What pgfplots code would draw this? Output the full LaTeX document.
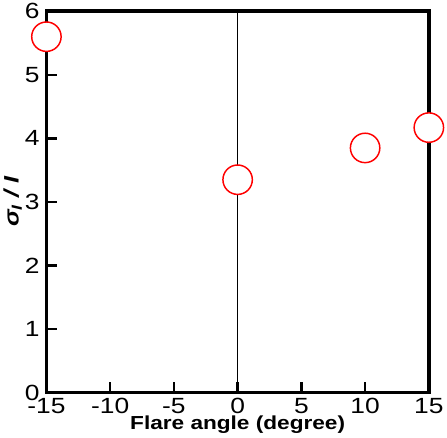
\documentclass[border=0pt]{standalone}
\usepackage{pgfplots}
\pgfplotsset{compat=1.18}
\usepackage{fontspec}
\setmainfont{Liberation Sans}
\newfontfamily\widefont[FakeStretch=1.2]{Liberation Sans}
\begin{document}
\begin{tikzpicture}
\begin{axis}[
  scale only axis,
  width=364bp, height=363bp,
  xmin=-15, xmax=15, ymin=0, ymax=6,
  xtick={-15,-10,...,15}, ytick={0,1,...,6},
  major tick length=0.3cm,
  tick align=inside,
  xtick pos=left, ytick pos=left,
  axis line style={line width=3.5bp},
  clip=false,
  xticklabel style={font=\widefont\fontsize{21}{24}\selectfont, yshift=-2bp},
  yticklabel style={font=\widefont\fontsize{21}{24}\selectfont, xshift=-3bp},
  xlabel={\widefont\fontsize{18}{22}\selectfont\bfseries Flare angle (degree)},
  ylabel={\widefont\fontsize{20}{23}\selectfont\bfseries\itshape σ\textsubscript{I} / I},
  xlabel style={yshift=5bp},
  ylabel style={yshift=-4bp},
  /pgf/number format/assume math mode=true,
]
% inward tick marks as short segments
\addplot[black, line width=2.5bp, forget plot] coordinates {(-10,0) (-10,0.16)};
\addplot[black, line width=2.5bp, forget plot] coordinates {(-5,0) (-5,0.16)};
\addplot[black, line width=2.5bp, forget plot] coordinates {(0,0) (0,0.16)};
\addplot[black, line width=2.5bp, forget plot] coordinates {(5,0) (5,0.16)};
\addplot[black, line width=2.5bp, forget plot] coordinates {(10,0) (10,0.16)};
\addplot[black, line width=2.5bp, forget plot] coordinates {(-15,1) (-14.2,1)};
\addplot[black, line width=2.5bp, forget plot] coordinates {(-15,2) (-14.2,2)};
\addplot[black, line width=2.5bp, forget plot] coordinates {(-15,3) (-14.2,3)};
\addplot[black, line width=2.5bp, forget plot] coordinates {(-15,4) (-14.2,4)};
\addplot[black, line width=2.5bp, forget plot] coordinates {(-15,5) (-14.2,5)};
\addplot[black, line width=1.1bp] coordinates {(0,0) (0,6)};
\addplot[only marks, mark=*, mark size=14bp,
  mark options={draw=red, fill=white, line width=1.4bp}]
  coordinates {(-15,5.6) (0,3.35) (10,3.85) (15,4.17)};
\end{axis}
\end{tikzpicture}
\end{document}
